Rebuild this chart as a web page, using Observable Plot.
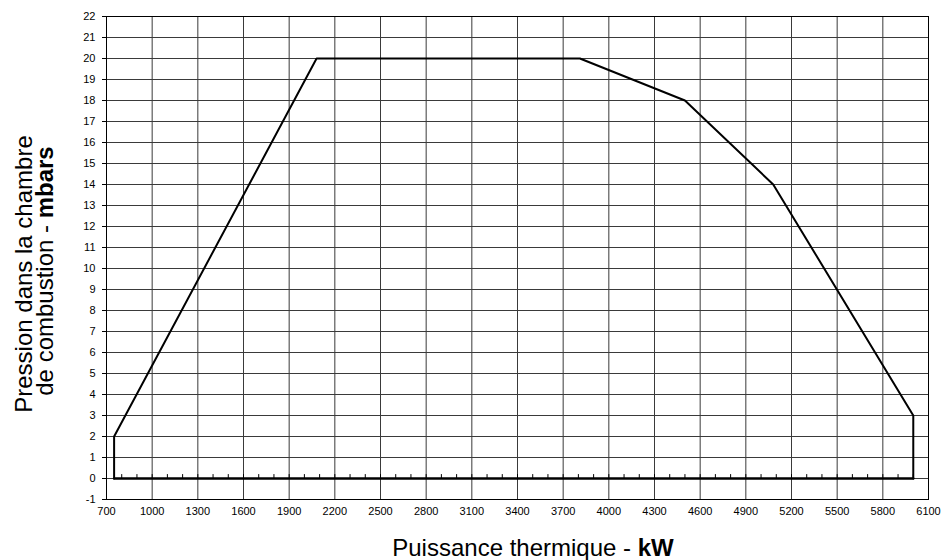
<!DOCTYPE html>
<html>
<head>
<meta charset="utf-8">
<script src="https://cdn.jsdelivr.net/npm/d3@7"></script>
<script src="https://cdn.jsdelivr.net/npm/@observablehq/plot@0.6"></script>
<style>
  body { margin: 0; background: #fff; }
  #chart { width: 943px; height: 560px; }
</style>
</head>
<body>
<div id="chart"></div>
<script>
// Outline of the working range (kW, mbar)
const powerKW = [750, 750, 2080, 3810, 4500, 5080, 6000, 6000];
const pressureMbar = [0, 2, 20, 20, 18, 14, 3, 0];
// Base line at 0 mbar
const baseKW = [750, 6000];
const baseMbar = [0, 0];
// Axis ticks
const xTicks = [700, 1000, 1300, 1600, 1900, 2200, 2500, 2800, 3100, 3400, 3700, 4000, 4300, 4600, 4900, 5200, 5500, 5800, 6100];
const yTicks = [-1, 0, 1, 2, 3, 4, 5, 6, 7, 8, 9, 10, 11, 12, 13, 14, 15, 16, 17, 18, 19, 20, 21, 22];
const minorTicks = d3.range(800, 6001, 100);

const outline = powerKW.map((x, i) => ({x, y: pressureMbar[i]}));
const base = baseKW.map((x, i) => ({x, y: baseMbar[i]}));

const font = "'Liberation Sans', Arial, sans-serif";

const plot = Plot.plot({
  width: 943,
  height: 560,
  marginLeft: 106,
  marginRight: 15,
  marginTop: 16,
  marginBottom: 61,
  style: {fontFamily: font, fontSize: "11px", color: "#000", background: "#fff"},
  x: {domain: [700, 6100], ticks: xTicks, label: null},
  y: {domain: [-1, 22], ticks: yTicks, label: null},
  marks: [
    Plot.gridX(xTicks, {stroke: "#3a3a3a", strokeOpacity: 1, strokeWidth: 1}),
    Plot.gridY(yTicks, {stroke: "#3a3a3a", strokeOpacity: 1, strokeWidth: 1}),
    Plot.axisX(xTicks, {tickSize: 0, tickPadding: 8, fontSize: 11, fill: "#000", tickFormat: d => String(d)}),
    Plot.axisY(yTicks, {tickSize: 4, tickPadding: 7, fontSize: 11, fill: "#000", stroke: "#000", tickFormat: d => String(d)}),
    Plot.vector(minorTicks, {x: d => d, y: 0, length: 4, rotate: 0, anchor: "start", stroke: "#000", strokeWidth: 1, shape: {draw(ctx, l) { ctx.moveTo(0, 0); ctx.lineTo(0, -l); }}}),
    Plot.line(base, {x: "x", y: "y", stroke: "#000", strokeWidth: 2.5}),
    Plot.line(outline, {x: "x", y: "y", stroke: "#000", strokeWidth: 2, strokeLinejoin: "miter"}),
    Plot.frame({stroke: "#000", strokeWidth: 1})
  ]
});

const svg = d3.select(plot);
// X axis title
const xt = svg.append("text")
  .attr("x", 533).attr("y", 556)
  .attr("text-anchor", "middle")
  .style("font-family", font).style("font-size", "24px").attr("fill", "#000");
xt.append("tspan").text("Puissance thermique - ");
xt.append("tspan").attr("font-weight", "bold").text("kW");

// Y axis title (two lines)
svg.append("text")
  .attr("transform", "translate(32,274) rotate(-90)")
  .attr("text-anchor", "middle")
  .style("font-family", font).style("font-size", "24px").attr("fill", "#000")
  .text("Pression dans la chambre");
const yt2 = svg.append("text")
  .attr("transform", "translate(53,271) rotate(-90)")
  .attr("text-anchor", "middle")
  .style("font-family", font).style("font-size", "24px").attr("fill", "#000");
yt2.append("tspan").text("de combustion - ");
yt2.append("tspan").attr("font-weight", "bold").text("mbars");

document.getElementById("chart").appendChild(plot);
</script>
</body>
</html>
